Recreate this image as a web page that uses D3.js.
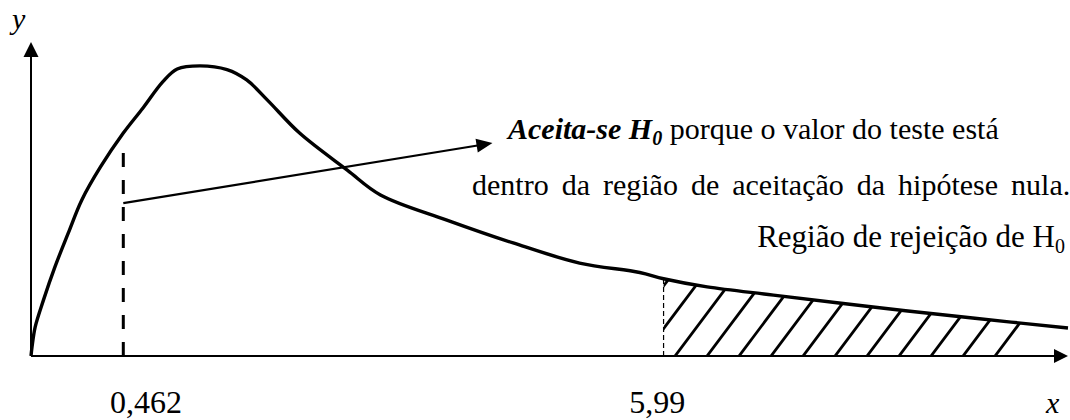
<!DOCTYPE html>
<html>
<head>
<meta charset="utf-8">
<script src="https://cdn.jsdelivr.net/npm/d3@7"></script>
<style>
  body { margin: 0; background: #fff; }
</style>
</head>
<body>
<div id="chart"></div>
<script>
// Curve of the (schematic) test distribution, in drawing units 0..100
const curveX = [0, 0.1, 0.4, 1.2, 2.3, 3.6, 4.9, 6.7, 8.9, 10.8, 12.7, 14.1, 16.3, 18.9, 20.8, 22.8, 25.9, 30.5, 33.7, 40.1, 46.5, 52.9, 58.7, 61.0, 65.2, 71.6, 81.2, 90.8, 100];
const curveY = [0, 2.9, 9.2, 17.8, 28.3, 39.2, 49.7, 60.2, 71.0, 79.0, 87.3, 91.4, 92.4, 91.2, 87.9, 81.5, 71.0, 59.2, 51.3, 43.3, 36.0, 29.6, 26.6, 24.6, 22.0, 19.4, 15.6, 12.1, 8.9];

// Critical values and where they sit on the drawing axis
const critLabels = ["0,462", "5,99"];
const critPos = [8.9, 61.0];
const critTop = [67.2, 24.6];      // how high each dashed line reaches
const labelPos = [11.1, 60.4];     // label centres

// rejection region (hatched) extent
const hatchFrom = 61.0;
const hatchTo = 96.6;

// annotation arrow (from dashed line to the text)
const arrowFrom = [8.9, 48.7];
const arrowTo = [44.5, 67.8];

const serif = "'Liberation Serif', 'Times New Roman', Tinos, 'DejaVu Serif', serif";
const width = 1070, height = 420;
const x = d3.scaleLinear().domain([0, 100]).range([31, 1068]);
const y = d3.scaleLinear().domain([0, 100]).range([356, 42]);

const svg = d3.select("#chart").append("svg")
    .attr("width", width)
    .attr("height", height)
    .attr("font-family", serif);

const data = curveX.map((v, i) => ({ x: v, y: curveY[i] }));
const curve = d3.curveCatmullRom.alpha(0.5);

// clip paths for hatching
const defs = svg.append("defs");
defs.append("clipPath").attr("id", "under")
    .append("path")
    .attr("d", d3.area().x(d => x(d.x)).y0(y(0)).y1(d => y(d.y)).curve(curve)(data));
defs.append("clipPath").attr("id", "band")
    .append("rect")
    .attr("x", x(hatchFrom)).attr("y", 0)
    .attr("width", x(hatchTo) - x(hatchFrom) + 40).attr("height", y(0));

// hatch lines, one every 32px along the axis
const step = 32;
const slope = 0.75; // dx per dy
const starts = d3.range(x(hatchFrom) + 10 - step * 3, x(hatchTo) - 30, step);
svg.append("g").attr("clip-path", "url(#band)")
  .append("g").attr("clip-path", "url(#under)")
  .selectAll("line")
  .data(starts)
  .enter().append("line")
    .attr("x1", d => d).attr("y1", y(0) + 2)
    .attr("x2", d => d + slope * 320).attr("y2", y(0) + 2 - 320)
    .attr("stroke", "#000")
    .attr("stroke-width", 2.8);

// axes with arrowheads
svg.append("line")
    .attr("x1", x(0)).attr("y1", y(0))
    .attr("x2", x(100) - 10).attr("y2", y(0))
    .attr("stroke", "#000").attr("stroke-width", 2);
svg.append("path")
    .attr("d", `M${x(100)},${y(0)} L${x(100) - 14},${y(0) - 7} L${x(100) - 14},${y(0) + 7} Z`);
svg.append("line")
    .attr("x1", x(0)).attr("y1", y(0))
    .attr("x2", x(0)).attr("y2", y(100) + 10)
    .attr("stroke", "#000").attr("stroke-width", 2);
svg.append("path")
    .attr("d", `M${x(0)},${y(100)} L${x(0) - 7.5},${y(100) + 15} L${x(0) + 7.5},${y(100) + 15} Z`);

// dashed lines at critical values
svg.append("line")
    .attr("x1", x(critPos[0])).attr("y1", y(0))
    .attr("x2", x(critPos[0])).attr("y2", y(critTop[0]))
    .attr("stroke", "#000").attr("stroke-width", 3)
    .attr("stroke-dasharray", "14,13");
svg.append("line")
    .attr("x1", x(critPos[1])).attr("y1", y(0))
    .attr("x2", x(critPos[1])).attr("y2", y(critTop[1]))
    .attr("stroke", "#000").attr("stroke-width", 1.2)
    .attr("stroke-dasharray", "5,3");

// the density curve
svg.append("path")
    .datum(data)
    .attr("fill", "none")
    .attr("stroke", "#000")
    .attr("stroke-width", 3.4)
    .attr("stroke-linejoin", "round")
    .attr("d", d3.line().x(d => x(d.x)).y(d => y(d.y)).curve(curve));

// annotation arrow
const ax1 = x(arrowFrom[0]), ay1 = y(arrowFrom[1]);
const ax2 = x(arrowTo[0]), ay2 = y(arrowTo[1]);
const ang = Math.atan2(ay2 - ay1, ax2 - ax1);
svg.append("line")
    .attr("x1", ax1).attr("y1", ay1)
    .attr("x2", ax2 - 12 * Math.cos(ang)).attr("y2", ay2 - 12 * Math.sin(ang))
    .attr("stroke", "#000").attr("stroke-width", 2.2);
svg.append("path")
    .attr("transform", `translate(${ax2},${ay2}) rotate(${ang * 180 / Math.PI})`)
    .attr("d", "M0,0 L-16,-7 L-16,7 Z");

// annotation texts
const t1 = svg.append("text").attr("x", 508).attr("y", 139)
    .attr("font-family", serif).attr("font-size", 30);
t1.append("tspan").attr("font-weight", "bold").attr("font-style", "italic").text("Aceita-se H");
t1.append("tspan").attr("font-weight", "bold").attr("font-style", "italic")
    .attr("font-size", 20).attr("dy", 6).text("0");
t1.append("tspan").attr("dy", -6).text(" porque o valor do teste está");

// justified line: wider word gaps
svg.append("text")
    .attr("x", 472).attr("y", 195)
    .attr("font-family", serif).attr("font-size", 30)
    .attr("word-spacing", 5.5)
    .text("dentro da região de aceitação da hipótese nula.");

const t3 = svg.append("text").attr("x", 1065).attr("y", 247)
    .attr("text-anchor", "end")
    .attr("font-family", serif).attr("font-size", 31);
t3.append("tspan").text("Região de rejeição de H");
t3.append("tspan").attr("font-size", 20).attr("dy", 6).text("0");

// tick labels
svg.selectAll(".crit-label")
    .data(critLabels)
    .enter().append("text")
    .attr("class", "crit-label")
    .attr("x", (d, i) => x(labelPos[i]))
    .attr("y", 413)
    .attr("text-anchor", "middle")
    .attr("font-family", serif).attr("font-size", 32)
    .text(d => d);

// axis names
svg.append("text").attr("x", 12).attr("y", 29)
    .attr("font-family", serif).attr("font-size", 30)
    .attr("font-style", "italic").text("y");
svg.append("text").attr("x", 1046).attr("y", 413)
    .attr("font-family", serif).attr("font-size", 30)
    .attr("font-style", "italic").text("x");
</script>
</body>
</html>
